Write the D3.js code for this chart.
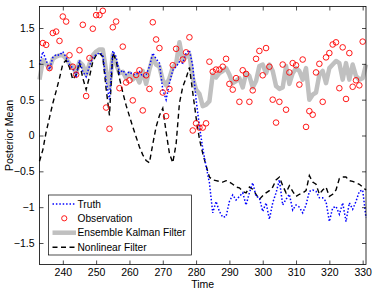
<!DOCTYPE html>
<html><head><meta charset="utf-8">
<script src="https://cdn.jsdelivr.net/npm/d3@7"></script>
<style>body{margin:0;background:#fff}svg{display:block}text{font-family:"Liberation Sans",Arial,sans-serif;fill:#000}</style>
</head><body><svg id="c" width="374" height="291"></svg>
<script>
const tStart = 233;
const truth = [0.99,1.17,1.05,0.92,1.09,1.13,1.12,1.17,1.09,0.99,0.94,0.83,1.05,0.89,0.82,0.97,1.09,1.13,1.15,1.13,
0.76,0.50,1.18,1.10,0.87,0.91,0.85,0.89,0.85,0.85,0.89,0.82,0.85,0.96,1.15,1.07,1.01,0.64,0.50,0.73,
0.91,0.96,1.03,1.01,1.15,1.19,0.97,0.50,0.13,-0.18,-0.43,-0.66,-1.08,-0.92,-1.06,-1.14,-1.13,-0.92,-0.83,-0.90,
-0.85,-0.80,-0.97,-0.80,-0.66,-0.85,-0.87,-1.06,-0.94,-1.17,-0.94,-0.80,-0.62,-0.97,-0.89,-0.82,-1.04,-0.97,-1.00,-1.08,
-0.97,-0.78,-0.76,-0.78,-0.87,-0.87,-0.92,-1.20,-1.01,-0.99,-1.10,-0.94,-1.20,-0.94,-1.03,-0.92,-0.78,-0.76,-1.15];
const enkf = [0.78,1.05,1.00,0.93,1.07,1.10,1.12,1.12,1.07,1.00,0.96,0.87,1.03,0.98,0.85,1.00,1.12,1.17,1.20,1.20,
0.90,0.67,1.13,1.00,0.87,0.89,0.80,0.87,0.78,0.84,0.74,0.90,0.72,0.92,1.09,0.99,0.96,0.77,0.70,0.80,
0.95,1.00,1.30,1.05,1.10,1.13,0.80,0.64,0.58,0.41,0.43,0.48,0.85,0.81,0.87,0.90,0.94,0.85,0.73,0.76,
0.80,0.67,0.87,0.83,0.67,0.76,0.97,0.99,0.87,0.99,0.90,0.69,0.65,0.67,0.97,0.72,0.87,0.94,0.90,0.78,
0.94,0.50,0.57,0.60,0.85,0.90,0.73,0.94,0.99,1.04,1.01,0.78,1.01,0.78,0.99,0.83,0.78,0.80,0.99];
const nonlinear = [-0.36,-0.20,0.05,0.25,0.45,0.62,0.80,1.00,1.05,0.95,0.78,0.85,1.02,0.80,0.64,0.82,1.03,1.12,1.15,1.10,
0.65,0.28,1.15,1.05,0.80,0.60,0.42,0.27,0.12,-0.02,-0.16,-0.27,-0.35,-0.38,-0.12,0.12,0.28,0.38,0.05,-0.25,
-0.38,-0.12,0.45,0.68,0.80,0.95,0.60,0.25,-0.05,-0.25,-0.42,-0.58,-0.62,-0.63,-0.64,-0.65,-0.63,-0.65,-0.68,-0.72,
-0.73,-0.78,-0.80,-0.72,-0.75,-0.82,-0.89,-0.84,-0.80,-0.77,-0.72,-0.62,-0.58,-0.70,-0.80,-0.70,-0.78,-0.85,-0.82,-0.80,
-0.77,-0.56,-0.65,-0.68,-0.82,-0.76,-0.72,-0.85,-0.82,-0.76,-0.60,-0.58,-0.58,-0.63,-0.64,-0.66,-0.68,-0.72,-0.76];
const obsStart = 234;
const observation = [1.29,1.265,0.94,1.43,1.45,1.32,1.66,1.59,1.12,0.96,0.85,1.19,1.545,0.55,1.08,1.49,1.68,1.68,1.74,0.39,
0.094,1.51,1.59,0.66,1.24,0.74,0.77,0.49,0.845,0.91,0.35,0.84,0.65,1.58,1.34,1.22,0.60,0.27,0.65,0.98,
1.21,null,1.06,1.16,1.37,0.07,0.17,0.11,0.11,0.17,1.03,0.89,0.92,0.92,0.96,1.07,0.72,0.64,0.80,0.47,
0.91,0.86,0.47,0.63,1.07,1.18,0.84,1.22,0.96,0.50,0.18,0.47,0.99,0.36,0.88,1.01,0.98,0.71,1.06,0.12,
0.34,0.29,0.88,1.00,0.47,1.09,1.15,1.27,1.30,0.66,1.23,0.51,1.15,0.68,0.77,0.70,1.31];
const xTicks = [240,250,260,270,280,290,300,310,320,330];
const yTicks = [-1.5,-1,-0.5,0,0.5,1,1.5];
const legendLabels = ["Truth","Observation","Ensemble Kalman Filter","Nonlinear Filter"];

const L=39.5,R=366,T=6.5,B=264.5;
const svg=d3.select("#c");
const x=d3.scaleLinear().domain([233,331]).range([L,R]);
const y=d3.scaleLinear().domain([-1.8,1.8]).range([B,T]);
const fmt=v=>(v<0?"\u2212":"")+Math.abs(v);

const series=(arr,s)=>arr.map((v,i)=>({t:s+i,v}));
const line=d3.line().defined(d=>d.v!=null).x(d=>x(d.t)).y(d=>y(d.v));
const g=svg.append("g");
g.append("path").datum(series(enkf,tStart)).attr("d",line).attr("fill","none").attr("stroke","#c0c0c0").attr("stroke-width",4.5).attr("stroke-linejoin","round");
g.append("path").datum(series(nonlinear,tStart)).attr("d",line).attr("fill","none").attr("stroke","#000").attr("stroke-width",1.4).attr("stroke-dasharray","5,3.5");
g.append("path").datum(series(truth,tStart)).attr("d",line).attr("fill","none").attr("stroke","#0000ff").attr("stroke-width",1.5).attr("stroke-dasharray","1.5,1.9");
g.selectAll("circle.o").data(series(observation,obsStart).filter(d=>d.v!=null)).enter().append("circle")
 .attr("cx",d=>x(d.t)).attr("cy",d=>y(d.v)).attr("r",2.8).attr("fill","none").attr("stroke","#ff0000").attr("stroke-width",0.9);

// axes
const fs=10.5;
const xa=svg.append("g").attr("transform",`translate(0,${B})`).call(d3.axisBottom(x).tickValues(xTicks).tickSizeInner(-4).tickSizeOuter(0).tickPadding(4));
const xt=svg.append("g").attr("transform",`translate(0,${T})`).call(d3.axisTop(x).tickValues(xTicks).tickSizeInner(-4).tickSizeOuter(0).tickFormat(""));
const ya=svg.append("g").attr("transform",`translate(${L},0)`).call(d3.axisLeft(y).tickValues(yTicks).tickFormat(fmt).tickSizeInner(-4).tickSizeOuter(0).tickPadding(5));
const yr=svg.append("g").attr("transform",`translate(${R},0)`).call(d3.axisRight(y).tickValues(yTicks).tickSizeInner(-4).tickSizeOuter(0).tickFormat(""));
[xa,xt,ya,yr].forEach(a=>{a.select(".domain").remove();a.selectAll("line").attr("stroke","#000").attr("stroke-width",0.7);a.selectAll("text").attr("font-size",fs).attr("font-family","Liberation Sans, Arial, sans-serif");});
svg.append("rect").attr("x",L).attr("y",T).attr("width",R-L).attr("height",B-T).attr("fill","none").attr("stroke","#000").attr("stroke-width",0.8);

svg.append("text").attr("x",(L+R)/2).attr("y",288).attr("text-anchor","middle").attr("font-size",fs).text("Time");
svg.append("text").attr("transform",`translate(12.5,${(T+B)/2}) rotate(-90)`).attr("text-anchor","middle").attr("font-size",fs).text("Posterior Mean");

// legend
const lg=svg.append("g");
lg.append("rect").attr("x",48.5).attr("y",195).attr("width",143).attr("height",60).attr("fill","#fff").attr("stroke","#000").attr("stroke-width",0.7);
const rows=[204,218.3,232.7,247.3];
const lx1=52.5,lx2=76;
lg.append("line").attr("x1",lx1).attr("x2",lx2).attr("y1",rows[0]).attr("y2",rows[0]).attr("stroke","#0000ff").attr("stroke-width",1.5).attr("stroke-dasharray","1.5,1.9");
lg.append("circle").attr("cx",(lx1+lx2)/2).attr("cy",rows[1]).attr("r",2.6).attr("fill","none").attr("stroke","#ff0000").attr("stroke-width",0.9);
lg.append("line").attr("x1",lx1).attr("x2",lx2).attr("y1",rows[2]).attr("y2",rows[2]).attr("stroke","#c0c0c0").attr("stroke-width",4.5);
lg.append("line").attr("x1",lx1).attr("x2",lx2).attr("y1",rows[3]).attr("y2",rows[3]).attr("stroke","#000").attr("stroke-width",1.4).attr("stroke-dasharray","5,3.5");
lg.selectAll("text.l").data(legendLabels).enter().append("text").attr("x",77.5).attr("y",(d,i)=>rows[i]+3.7).attr("font-size",10.2).text(d=>d);
</script></body></html>
